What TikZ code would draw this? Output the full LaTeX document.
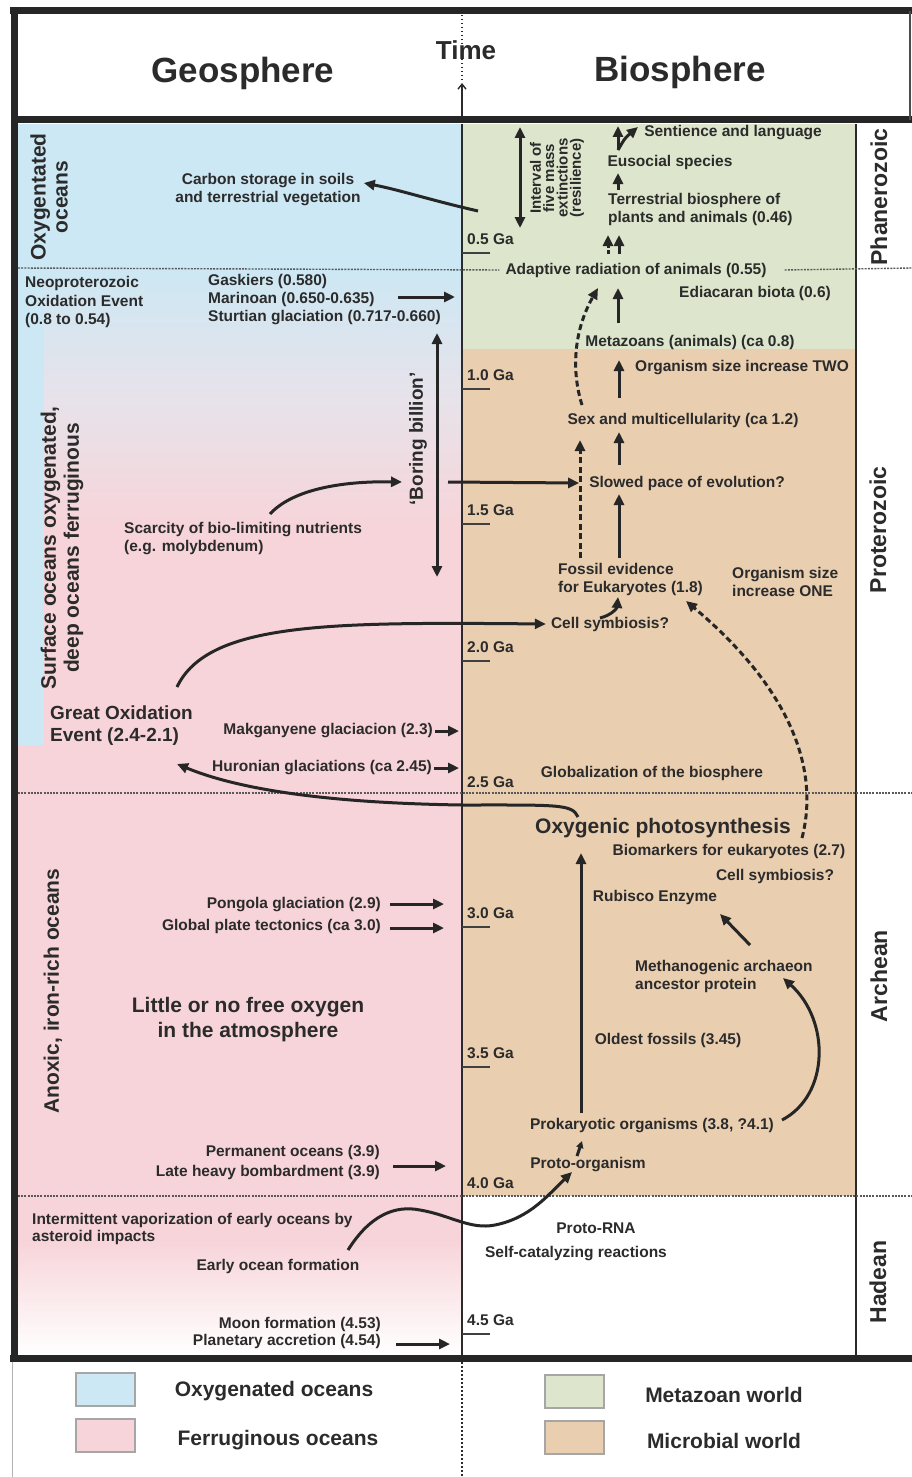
\documentclass[tikz,border=0pt]{standalone}
\usepackage{fontspec}
\setmainfont{Liberation Sans}
\usepackage{tikz}
\usetikzlibrary{arrows.meta,positioning,calc}

\definecolor{ink}{HTML}{2B2B2B}
\definecolor{oxblue}{HTML}{CCE8F4}
\definecolor{fepink}{HTML}{F7D4D9}
\definecolor{lavender}{HTML}{E8E2EA}
\definecolor{metagreen}{HTML}{DDE6CC}
\definecolor{microtan}{HTML}{E9CEB0}

\tikzset{
  txt/.style={font=\fontsize{15.5}{18}\selectfont\bfseries, text=ink, inner sep=0pt, align=center},
  txtl/.style={txt, align=left},
  txtr/.style={txt, align=right},
  midtxt/.style={font=\fontsize{19}{22}\selectfont\bfseries, text=ink, inner sep=0pt},
  bigtxt/.style={font=\fontsize{21}{24}\selectfont\bfseries, text=ink, inner sep=0pt, align=center},
  headtxt/.style={font=\fontsize{35}{40}\selectfont\bfseries, text=ink, inner sep=0pt},
  eratxt/.style={font=\fontsize{23}{26}\selectfont\bfseries, text=ink, inner sep=0pt, rotate=90},
  arr/.style={draw=black!85, line width=3pt, -{Triangle[length=11pt,width=10pt]}},
  darr/.style={arr, dash pattern=on 6pt off 3.5pt},
  dblarr/.style={draw=black!85, line width=3pt, {Triangle[length=11pt,width=10pt]}-{Triangle[length=11pt,width=10pt]}},
  eraline/.style={draw=gray!70!black, line width=1.4pt, dash pattern=on 2pt off 1.2pt},
  rim/.style={draw=black!85, line width=7pt},
  gatick/.style={draw=gray!50!black, line width=1.5pt},
  keybox/.style={draw=gray!70, line width=2pt, inner sep=0pt, minimum width=59pt, minimum height=33pt},
}

\begin{document}
\begin{tikzpicture}[x=1pt,y=-1pt]
    \useasboundingbox (0,0) rectangle (912,1477);
    \fill[white] (0,0) rectangle (912,1477);

    % Geosphere colours
    \fill[oxblue] (18,124) rectangle (462,268);
    \shade[top color=oxblue, bottom color=lavender] (18,268) rectangle (462,400);
    \shade[top color=lavender, bottom color=fepink] (18,400) rectangle (462,530);
    \fill[fepink] (18,530) rectangle (462,1240);
    \fill[oxblue] (18,268) rectangle (44,745);
    \shade[top color=fepink, bottom color=white] (18,1240) rectangle (462,1355);

    % Biosphere colours
    \fill[metagreen] (462,124) rectangle (856,349);
    \fill[microtan] (462,349) rectangle (856,1196);

    \draw[ink, line width=1.3pt] (462,124) -- (462,1355);
    \draw[ink, line width=1.5pt] (856,124) -- (856,1355);

    % Time scale
    \foreach \g/\y [count=\i] in {0.5/239,1.0/375,1.5/510,2.0/647,3.0/913,3.5/1053,4.5/1320}{
        \node[txtl, anchor=west] (ga\i) at (467,\y) {\g\ Ga};
        \draw[gatick] (462,\y+14) -- (490,\y+14);
    }
    \node[txtl, anchor=west] (ga25) at (467,782) {2.5 Ga};
    \node[txtl, anchor=west] (ga40) at (467,1183) {4.0 Ga};

    % Header
    \node[headtxt] (geo) at (243,73) {Geosphere};
    \node[headtxt] (bio) at (680,72) {Biosphere};
    \node[font=\fontsize{26}{30}\selectfont\bfseries, text=ink, inner sep=0pt] (time) at (466,50) {Time};
    \draw[ink, line width=1.2pt, dash pattern=on 1.5pt off 2.5pt] (462,15) -- (462,80);
    \coordinate (tbase) at (462,116);
    \coordinate (ttop) at (462,83);
    \draw[ink, line width=1.4pt, -{Straight Barb[length=5pt,width=8pt]}] (tbase) -- (ttop);

    % Eras
    \node[eratxt] (phan) at (879,197) {Phanerozoic};
    \node[eratxt] (prot) at (878,530) {Proterozoic};
    \node[eratxt] (arch) at (879,976) {Archean};
    \node[eratxt] (hade) at (878,1282) {Hadean};

    % Geosphere
    \node[bigtxt, rotate=90, font=\fontsize{21}{22}\selectfont\bfseries] (oxyoc) at (49,197) {Oxygentated\\oceans};
    \node[txt] (carbon) at (268,190) {Carbon storage in soils\\and terrestrial vegetation};
    \node[txtl, anchor=west, font=\fontsize{15.5}{18.5}\selectfont\bfseries] (neo) at (25,302) {Neoproterozoic\\Oxidation Event\\(0.8 to 0.54)};
    \node[txtl, anchor=west] (glac) at (208,300) {Gaskiers (0.580)\\Marinoan (0.650-0.635)\\Sturtian glaciation (0.717-0.660)};
    \node[midtxt, rotate=90] (boring) at (418,439) {‘Boring billion’};
    \node[txtl, anchor=west] (scar) at (124,539) {Scarcity of bio-limiting nutrients\\(e.g. molybdenum)};
    \node[bigtxt, rotate=90, font=\fontsize{21}{23}\selectfont\bfseries] (surf) at (62,548) {Surface oceans oxygenated,\\deep oceans ferruginous};
    \node[midtxt, align=left, anchor=west] (goe) at (50,726) {Great Oxidation\\Event (2.4-2.1)};
    \node[txt, anchor=east] (mak) at (433,731) {Makganyene glaciacion (2.3)};
    \node[txt, anchor=east] (hur) at (432,768) {Huronian glaciations (ca 2.45)};
    \node[txt, anchor=east] (pong) at (381,905) {Pongola glaciation (2.9)};
    \node[txt, anchor=east] (tect) at (381,926) {Global plate tectonics (ca 3.0)};
    \node[bigtxt, font=\fontsize{21}{25}\selectfont\bfseries] (little) at (248,1020) {Little or no free oxygen\\in the atmosphere};
    \node[bigtxt, rotate=90] (anox) at (53,991) {Anoxic, iron-rich oceans};
    \node[txtr, anchor=east, font=\fontsize{15.5}{20}\selectfont\bfseries] (perm) at (380,1162) {Permanent oceans (3.9)\\Late heavy bombardment (3.9)};
    \node[txtl, anchor=west, font=\fontsize{15.5}{17}\selectfont\bfseries] (vap) at (32,1229) {Intermittent vaporization of early oceans by\\asteroid impacts};
    \node[txt] (early) at (278,1266) {Early ocean formation};
    \node[txtr, anchor=east, font=\fontsize{15.5}{16.5}\selectfont\bfseries] (moon) at (381,1333) {Moon formation (4.53)\\Planetary accretion (4.54)};

    % Biosphere
    \node[txt, rotate=90, font=\fontsize{15}{13.3}\selectfont\bfseries] (intv) at (557,178) {Interval of\\five mass\\extinctions\\(resilience)};
    \node[txt] (sent) at (733,133) {Sentience and language};
    \node[txt] (euso) at (670,162) {Eusocial species};
    \node[txtl, anchor=west] (terr) at (608,209) {Terrestrial biosphere of\\plants and animals (0.46)};
    \node[txt] (adap) at (636,270) {Adaptive radiation of animals (0.55)};
    \node[txt] (ediac) at (755,293) {Ediacaran biota (0.6)};
    \node[txt] (meta) at (690,342) {Metazoans (animals) (ca 0.8)};
    \node[txt] (two) at (742,368) {Organism size increase TWO};
    \node[txt] (sex) at (683,420) {Sex and multicellularity (ca 1.2)};
    \node[txt] (slow) at (687,483) {Slowed pace of evolution?};
    \node[txtl, anchor=west] (fossil) at (558,579) {Fossil evidence\\for Eukaryotes (1.8)};
    \node[txtl, anchor=west] (one) at (732,582) {Organism size\\increase ONE};
    \node[txt] (symb) at (610,624) {Cell symbiosis?};
    \node[txt] (globe) at (652,773) {Globalization of the biosphere};
    \node[bigtxt] (photo) at (663,828) {Oxygenic photosynthesis};
    \node[txt] (biom) at (729,851) {Biomarkers for eukaryotes (2.7)};
    \node[txt] (symbb) at (775,876) {Cell symbiosis?};
    \node[txt] (rub) at (655,897) {Rubisco Enzyme};
    \node[txtl, anchor=west] (meth) at (635,976) {Methanogenic archaeon\\ancestor protein};
    \node[txt] (oldest) at (668,1040) {Oldest fossils (3.45)};
    \node[txt] (prok) at (652,1126) {Prokaryotic organisms (3.8, ?4.1)};
    \node[txt] (proto) at (588,1165) {Proto-organism};
    \node[txt] (rna) at (596,1228) {Proto-RNA};
    \node[txt] (selfcat) at (576,1254) {Self-catalyzing reactions};

    % Era boundaries
    \draw[eraline] (18,268) -- ([xshift=-6pt]adap.west);
    \draw[eraline] ([xshift=18pt]adap.east) -- (912,268);
    \draw[eraline] (18,793) -- (912,793);
    \draw[eraline] (18,1196) -- (912,1196);

    % Arrows, geosphere side
    \coordinate (veg) at (478,211);
    \draw[arr] (veg) .. controls (430,200) and (400,190) .. ([xshift=3pt,yshift=7pt]carbon.east);
    \coordinate (gl1) at (398,297);
    \coordinate (gl2) at (455,297);
    \draw[arr] (gl1) -- (gl2);
    \coordinate (bb1) at (437,333);
    \coordinate (bb2) at (437,577);
    \draw[dblarr] (bb1) -- (bb2);
    \coordinate (bbmid) at (448,482);
    \draw[arr] (bbmid) -- ([xshift=-10pt]slow.west);
    \coordinate (sc0) at (270,514);
    \coordinate (sc1) at (402,482);
    \draw[arr] (sc0) .. controls (292,490) and (340,481) .. (sc1);
    \coordinate (goetop) at (177,687);
    \draw[arr] (goetop) .. controls (208,622) and (330,622) .. ([xshift=-5pt]symb.west);
    \coordinate (mak2) at (459,731);
    \draw[arr] ([xshift=2pt]mak.east) -- (mak2);
    \coordinate (hur2) at (459,768);
    \draw[arr] ([xshift=2pt]hur.east) -- (hur2);
    \coordinate (ph0) at (578,817);
    \coordinate (goebot) at (177,764);
    \draw[arr] (ph0) .. controls (572,804) and (560,805) .. (462,805) .. controls (330,803) and (240,790) .. (goebot);
    \coordinate (po1) at (390,904);
    \coordinate (po2) at (444,904);
    \draw[arr] (po1) -- (po2);
    \coordinate (te1) at (390,928);
    \coordinate (te2) at (444,928);
    \draw[arr] (te1) -- (te2);
    \coordinate (pe1) at (393,1166);
    \coordinate (pe2) at (446,1166);
    \draw[arr] (pe1) -- (pe2);
    \coordinate (wv0) at (348,1250);
    \coordinate (wv1) at (572,1172);
    \draw[arr] (wv0) .. controls (370,1215) and (395,1205) .. (420,1210) .. controls (450,1215) and (470,1230) .. (495,1225) .. controls (530,1218) and (548,1195) .. (wv1);
    \coordinate (mo1) at (396,1344);
    \coordinate (mo2) at (450,1344);
    \draw[arr] (mo1) -- (mo2);

    % Arrows, biosphere side
    \coordinate (iv1) at (520,127);
    \coordinate (iv2) at (520,228);
    \draw[dblarr] (iv1) -- (iv2);
    \coordinate (ys) at (618,150);
    \coordinate (yl) at (618,126);
    \coordinate (yr) at (638,127);
    \draw[arr] (ys) -- (yl);
    \draw[arr] (ys) .. controls (625,138) .. (yr);
    \coordinate (eu1) at (618,190);
    \coordinate (eu2) at (618,173);
    \draw[arr] (eu1) -- (eu2);
    \coordinate (tr1) at (608,254);
    \coordinate (tr2) at (608,235);
    \draw[arr, dash pattern=on 4pt off 2pt] (tr1) -- (tr2);
    \coordinate (tr3) at (619,254);
    \coordinate (tr4) at (619,235);
    \draw[arr] (tr3) -- (tr4);
    \coordinate (ed1) at (618,323);
    \coordinate (ed2) at (618,288);
    \draw[arr] (ed1) -- (ed2);
    \coordinate (sx0) at (582,405);
    \coordinate (ad0) at (598,288);
    \draw[darr] (sx0) .. controls (571,370) and (574,330) .. (ad0);
    \coordinate (sz1) at (619,398);
    \coordinate (sz2) at (619,360);
    \draw[arr] (sz1) -- (sz2);
    \coordinate (sl1) at (619,465);
    \coordinate (sl2) at (619,432);
    \draw[arr] (sl1) -- (sl2);
    \coordinate (fe1) at (580,558);
    \coordinate (fe2) at (580,440);
    \draw[darr] (fe1) -- (fe2);
    \coordinate (fe3) at (619,558);
    \coordinate (fe4) at (619,494);
    \draw[arr] (fe3) -- (fe4);
    \coordinate (hk0) at (600,618);
    \coordinate (hk1) at (618,597);
    \draw[arr] (hk0) .. controls (612,615) and (617,608) .. (hk1);
    \coordinate (bm0) at (802,838);
    \coordinate (bm1) at (686,601);
    \draw[darr] (bm0) .. controls (822,760) and (780,680) .. (bm1);
    \coordinate (pk1) at (581,1113);
    \coordinate (pk2) at (581,853);
    \draw[arr] (pk1) -- (pk2);
    \coordinate (me1) at (750,945);
    \coordinate (me2) at (720,914);
    \draw[arr] (me1) -- (me2);
    \coordinate (pk3) at (782,1120);
    \coordinate (pk4) at (783,978);
    \draw[arr] (pk3) .. controls (830,1095) and (830,1020) .. (pk4);
    \coordinate (pr1) at (577,1156);
    \coordinate (pr2) at (582,1141);
    \draw[arr, -{Triangle[length=7pt,width=7pt]}] (pr1) -- (pr2);

    % Frame
    \draw[rim] (10,11) -- (912,11);
    \draw[rim] (14,7) -- (14,1362);
    \draw[rim] (14,120) -- (912,120);
    \draw[rim] (10,1358) -- (912,1358);
    \draw[black!70, line width=1.2pt] (910,11) -- (910,120);
    \draw[gray!60, line width=1pt] (12,1362) -- (12,1477);
    \draw[ink, line width=1.2pt, dash pattern=on 1.5pt off 2.5pt] (462,1362) -- (462,1477);

    % Legend
    \node[keybox, fill=oxblue] (kox) at (105.5,1389.5) {};
    \node[keybox, fill=fepink] (kfe) at (105.5,1435.5) {};
    \node[keybox, fill=metagreen] (kme) at (574,1391.5) {};
    \node[keybox, fill=microtan] (kmi) at (574,1437.5) {};
    \node[bigtxt] (lox) at (274,1391) {Oxygenated oceans};
    \node[bigtxt] (lfe) at (278,1440) {Ferruginous oceans};
    \node[bigtxt] (lme) at (724,1395) {Metazoan world};
    \node[bigtxt] (lmi) at (724,1441) {Microbial world};
\end{tikzpicture}
\end{document}
